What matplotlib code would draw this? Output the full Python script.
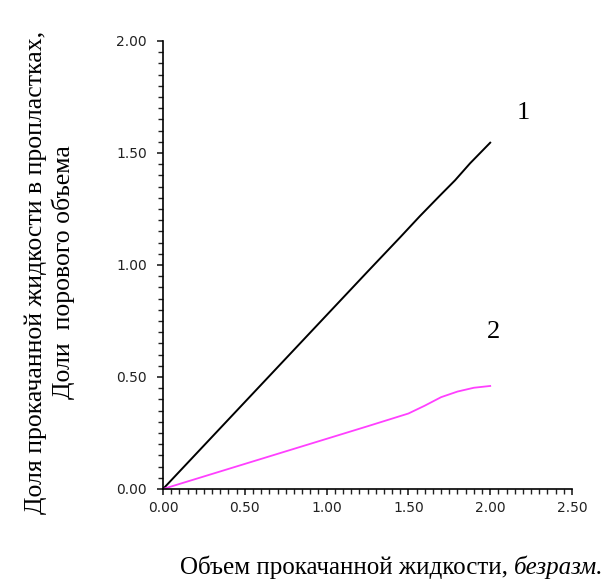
import matplotlib
matplotlib.use("Agg")
import matplotlib.pyplot as plt
from matplotlib.ticker import MultipleLocator, FormatStrFormatter
from matplotlib.offsetbox import TextArea, HPacker, AnchoredOffsetbox

# ---- data ----
x1 = [0, 0.25, 0.5, 0.75, 1.0, 1.25, 1.45, 1.57, 1.69, 1.785, 1.877, 2.0]
y1 = [0, 0.194, 0.388, 0.582, 0.776, 0.97, 1.124, 1.218, 1.308, 1.378, 1.454, 1.546]

x2 = [0, 0.25, 0.5, 0.75, 1.0, 1.25, 1.5, 1.6, 1.7, 1.8, 1.9, 2.0]
y2 = [0, 0.056, 0.112, 0.168, 0.224, 0.28, 0.337, 0.372, 0.41, 0.435, 0.452, 0.46]

xlabel_main = "Объем прокачанной жидкости, "
xlabel_ital = "безразм."
ylabel = "Доля прокачанной жидкости в пропластках,\nДоли  порового объема"

serif = "Liberation Serif"

fig = plt.figure(figsize=(6.07, 5.83), dpi=100)
ax = fig.add_axes([163 / 607, 1 - 489 / 583, 409 / 607, 448 / 583])

ax.plot(x1, y1, color="black", lw=1.4)
ax.plot(x2, y2, color="#ff40ff", lw=1.3)

ax.set_xlim(0, 2.5)
ax.set_ylim(0, 2.0)
ax.spines["top"].set_visible(False)
ax.spines["right"].set_visible(False)
ax.spines["left"].set_linewidth(1.2)
ax.spines["bottom"].set_linewidth(1.2)

ax.xaxis.set_major_locator(MultipleLocator(0.5))
ax.xaxis.set_minor_locator(MultipleLocator(0.05))
ax.yaxis.set_major_locator(MultipleLocator(0.5))
ax.yaxis.set_minor_locator(MultipleLocator(0.05))
ax.xaxis.set_major_formatter(FormatStrFormatter("%.2f"))
ax.yaxis.set_major_formatter(FormatStrFormatter("%.2f"))
ax.tick_params(which="major", length=4.5, width=1.2, labelsize=10, colors="#222222")
ax.tick_params(which="minor", length=3.5, width=1.0, colors="#222222")
ax.tick_params(axis="x", which="major", pad=4)
ax.tick_params(axis="y", which="major", pad=7)

ax.text(2.2, 1.68, "1", fontsize=19, family=serif, ha="center", va="center")
ax.text(2.02, 0.70, "2", fontsize=19, family=serif, ha="center", va="center")

fig.text(50 / 607, 1 - 272 / 583, ylabel, rotation=90, ha="center", va="center",
         fontsize=18.5, family=serif, linespacing=1.25)

# x label with italic ending
ta1 = TextArea(xlabel_main, textprops=dict(fontsize=18, family=serif))
ta2 = TextArea(xlabel_ital, textprops=dict(fontsize=18, family=serif, style="italic"))
box = HPacker(children=[ta1, ta2], pad=0, sep=0, align="baseline")
anch = AnchoredOffsetbox(loc="center", child=box, frameon=False, pad=0, borderpad=0,
                         bbox_to_anchor=(392 / 607, 1 - 567 / 583),
                         bbox_transform=fig.transFigure)
fig.add_artist(anch)

fig.savefig("out.png", dpi=100, facecolor="white")
